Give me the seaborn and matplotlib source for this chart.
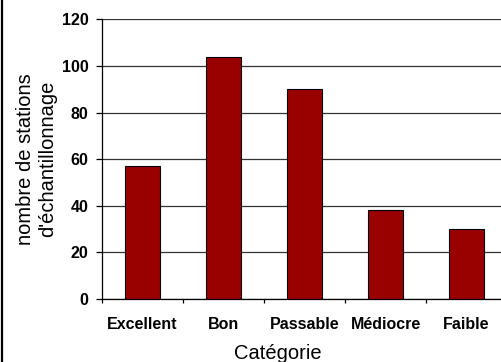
import matplotlib
matplotlib.use("Agg")
import matplotlib.pyplot as plt
from matplotlib.lines import Line2D
from matplotlib.ticker import FixedLocator
import seaborn as sns
import pandas as pd

# Number of sampling stations per quality category
categories = ["Excellent", "Bon", "Passable", "Médiocre", "Faible"]
stations = [57, 104, 90, 38, 30]
y_ticks = [0, 20, 40, 60, 80, 100, 120]

sns.set_theme(style="white")
plt.rcParams["font.family"] = ["Liberation Sans", "DejaVu Sans"]

df = pd.DataFrame({"categorie": categories, "stations": stations})

fig = plt.figure(figsize=(5.02, 3.62), dpi=100)
ax = fig.add_axes([102 / 502, 1 - 299 / 362, 405 / 502, 279.5 / 362])

sns.barplot(data=df, x="categorie", y="stations", color="#990000",
            saturation=1, width=0.42, edgecolor="black", linewidth=0.8, ax=ax,
            zorder=3)

ax.set_xlim(-0.5, len(categories) - 0.5)
ax.set_ylim(0, 120)
ax.set_yticks(y_ticks)
ax.set_yticklabels([str(t) for t in y_ticks], fontweight="bold", fontsize=11.5)
ax.set_xticks(range(len(categories)))
ax.set_xticklabels(categories, fontweight="bold", fontsize=11.5)

# Horizontal gridlines
ax.yaxis.grid(True, color="#333333", linewidth=0.9)
ax.set_axisbelow(True)

# Spines: left and bottom only
for side in ["top", "right"]:
    ax.spines[side].set_visible(False)
for side in ["left", "bottom"]:
    ax.spines[side].set_visible(True)
    ax.spines[side].set_color("black")
    ax.spines[side].set_linewidth(0.9)

# Y ticks pointing outward
ax.tick_params(axis="y", which="major", direction="out", length=4.3, width=0.9,
               color="black", left=True, pad=5.5, labelcolor="black")
# X labels centered on bars, ticks between categories
ax.tick_params(axis="x", which="major", length=0, pad=13, labelcolor="black")
ax.xaxis.set_minor_locator(FixedLocator([i - 0.5 for i in range(len(categories) + 1)]))
ax.tick_params(axis="x", which="minor", direction="out", length=3, width=0.9,
               color="black", bottom=True)

ax.set_ylabel("nombre de stations\nd'échantillonnage", fontsize=14.5,
              color="black", linespacing=1.2)
ax.yaxis.set_label_coords(-0.11, 0.5)
ax.set_xlabel("Catégorie", fontsize=14.5, color="black")
ax.xaxis.set_label_coords(0.435, -0.16)

# Outer frame line on the left edge
fig.add_artist(Line2D([2.5 / 502, 2.5 / 502], [0, 1], color="black",
                      linewidth=1.6, transform=fig.transFigure))

fig.savefig("out.png", dpi=100)
